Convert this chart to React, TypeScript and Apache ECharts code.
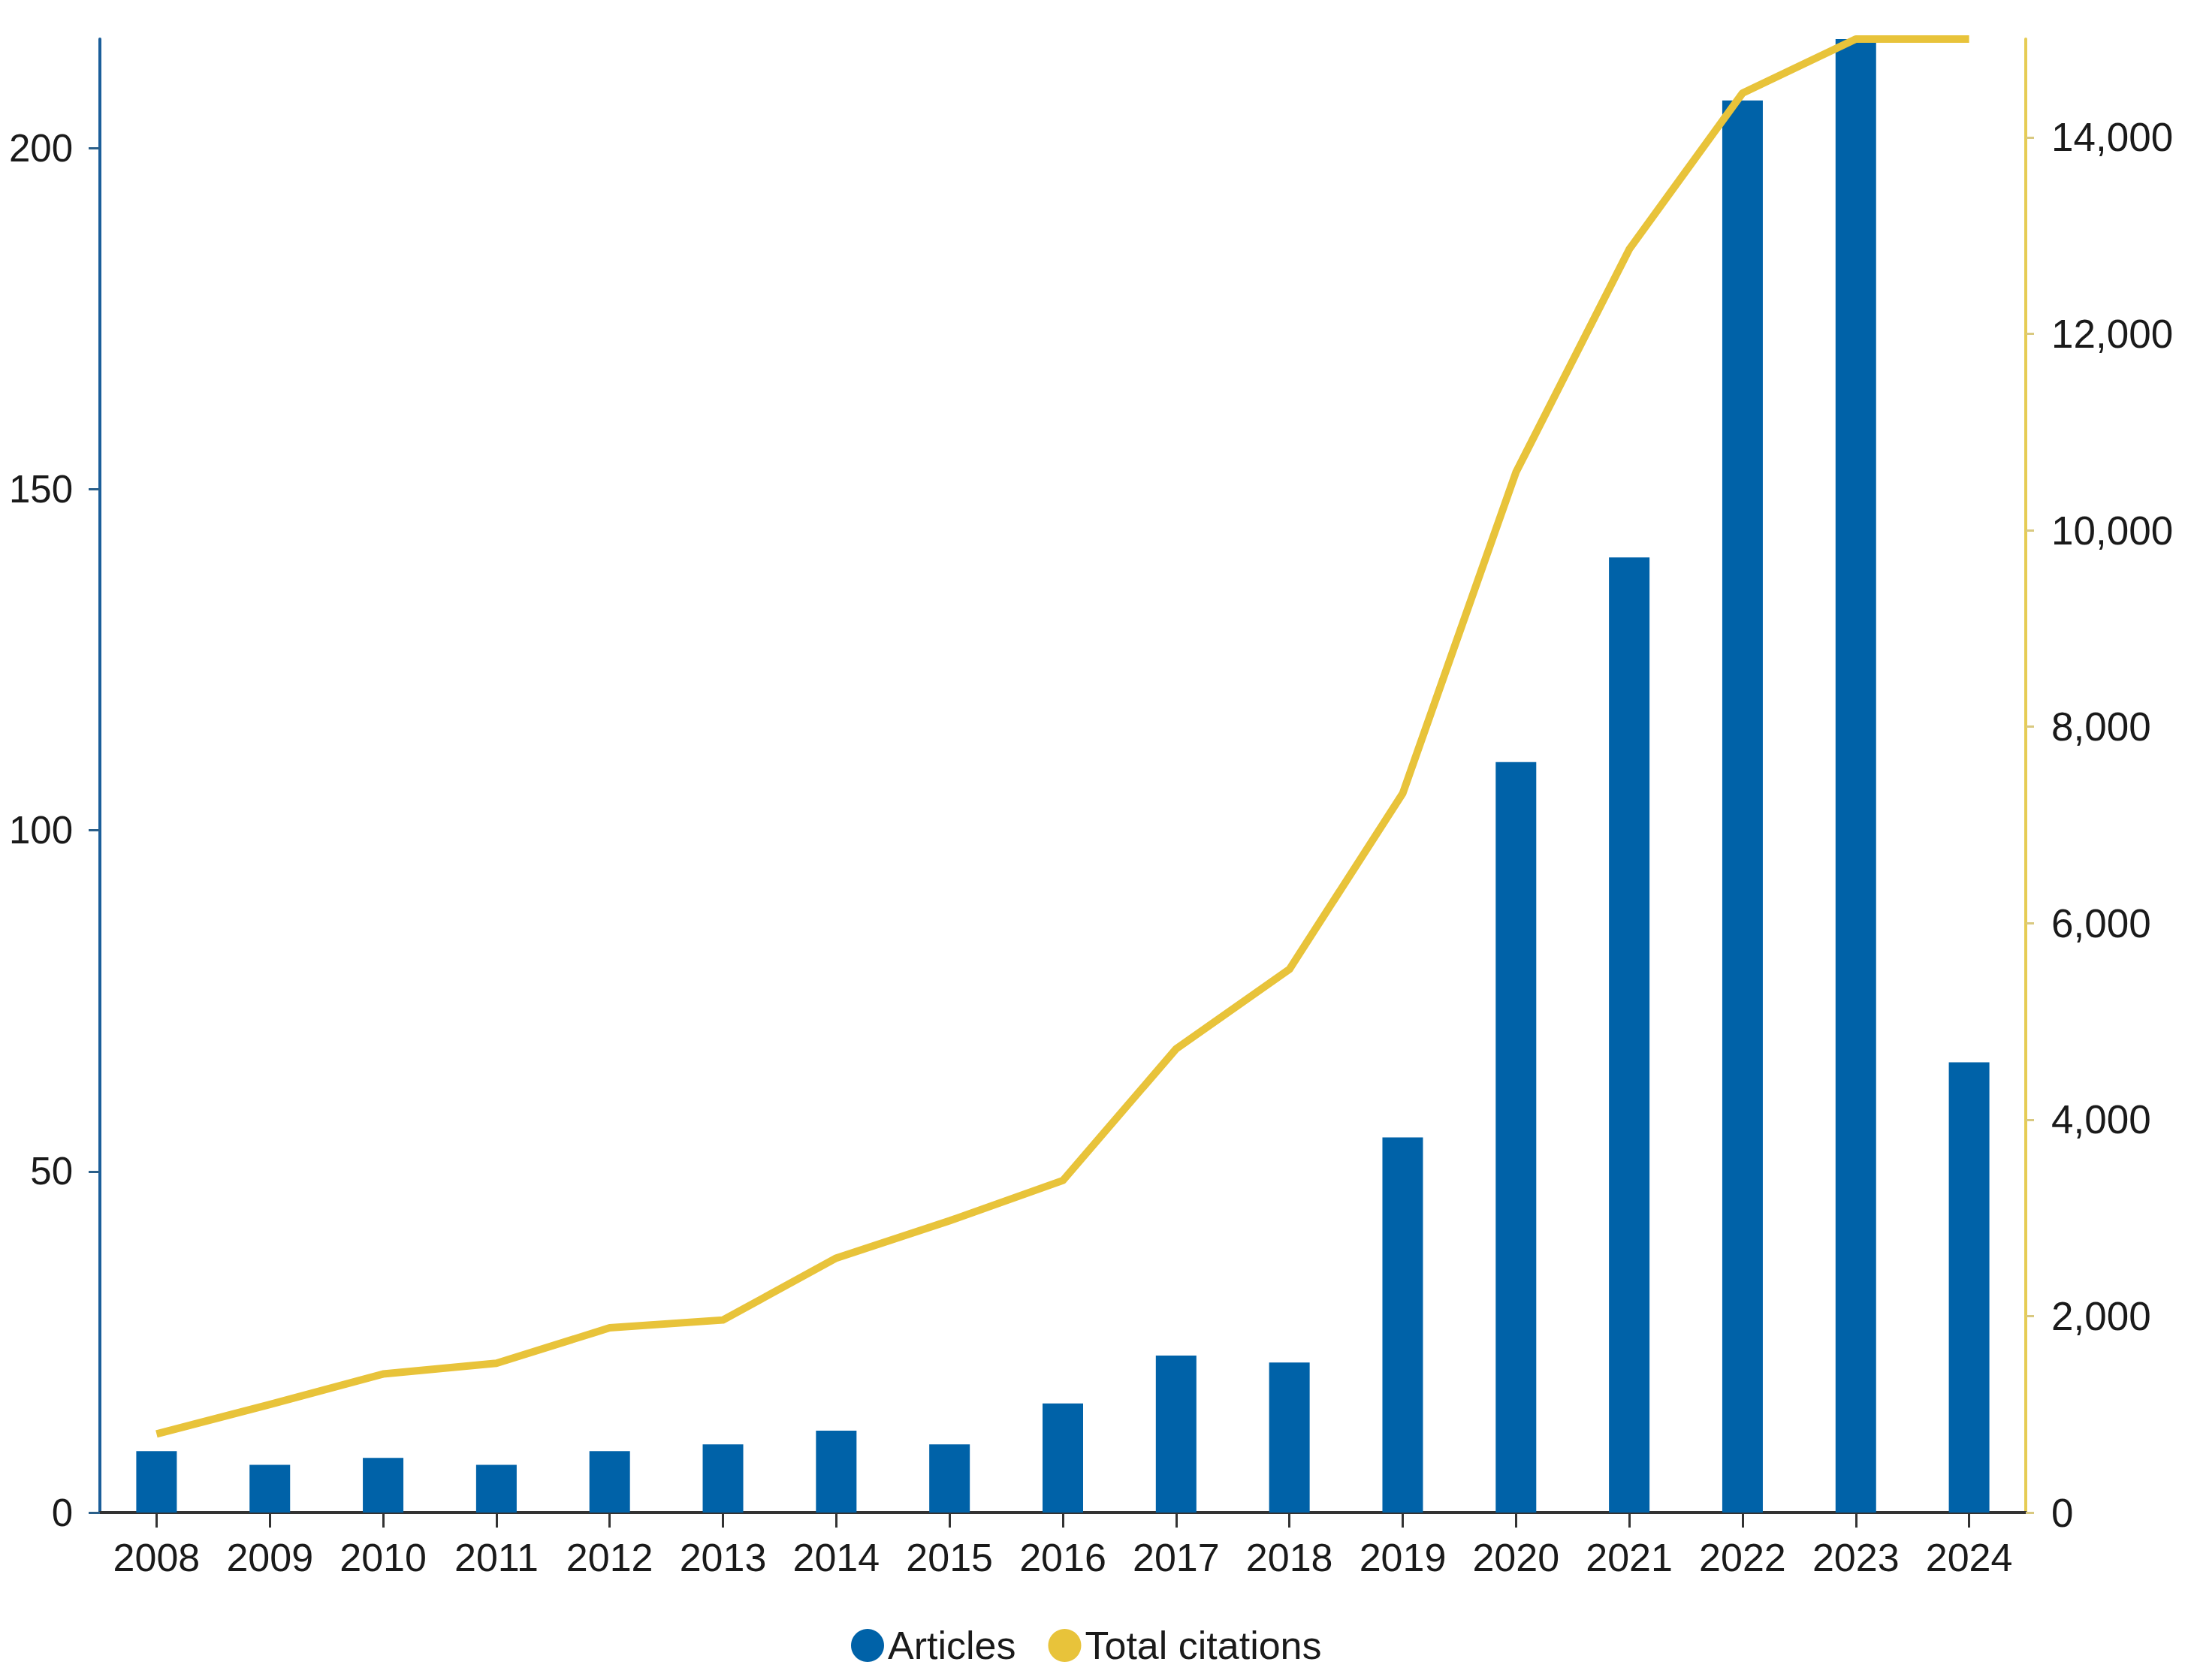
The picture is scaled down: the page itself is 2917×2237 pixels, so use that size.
import React, { useEffect, useRef } from "react";
import * as echarts from "echarts";

const years = ["2008","2009","2010","2011","2012","2013","2014","2015","2016","2017","2018","2019","2020","2021","2022","2023","2024"];
const articles = [9, 7, 8, 7, 9, 10, 12, 10, 16, 23, 22, 55, 110, 140, 207, 216, 66];
const citations = [800, 1100, 1410, 1520, 1880, 1960, 2590, 2970, 3380, 4720, 5530, 7320, 10590, 12860, 14450, 15000, 15000];
const leftTicks = [0, 50, 100, 150, 200];
const rightTicks = [0, 2000, 4000, 6000, 8000, 10000, 12000, 14000];

const FONT = "'Liberation Sans', Arial, Helvetica, sans-serif";
const BLUE = "#0062a8";
const YELLOW = "#e8c33a";

export default function App() {
  const ref = useRef<HTMLDivElement>(null);
  useEffect(() => {
    if (!ref.current) return;
    const chart = echarts.init(ref.current, undefined, { renderer: "svg" });
    chart.setOption({
      animation: false,
      backgroundColor: "#ffffff",
      textStyle: { fontFamily: FONT },
      grid: { left: 133, right: 220, top: 52, bottom: 223, containLabel: false },
      legend: {
        left: 1128,
        top: 2160,
        itemWidth: 44,
        itemHeight: 44,
        itemGap: 43,
        icon: "circle",
        textStyle: { fontFamily: FONT, fontSize: 52, color: "#1a1a1a", padding: [0, 0, 0, 0] },
        data: ["Articles", "Total citations"],
      },
      xAxis: {
        type: "category",
        data: years,
        boundaryGap: true,
        axisLine: { show: true, lineStyle: { color: "#333333", width: 4 } },
        axisTick: { show: true, alignWithLabel: true, length: 20, lineStyle: { color: "#333333", width: 3 } },
        axisLabel: { fontFamily: FONT, fontSize: 52, color: "#1a1a1a", margin: 34, interval: 0 },
        splitLine: { show: false },
      },
      yAxis: [
        {
          type: "value",
          min: 0,
          max: 216,
          interval: 50,
          position: "left",
          axisLine: { show: true, lineStyle: { color: "#1b5e9a", width: 4 } },
          axisTick: { show: true, length: 15, customValues: leftTicks, lineStyle: { color: "#2a5f8a", width: 3 } },
          axisLabel: { fontFamily: FONT, fontSize: 51, color: "#1a1a1a", margin: 36, customValues: leftTicks },
          splitLine: { show: false },
        },
        {
          type: "value",
          min: 0,
          max: 15000,
          interval: 2000,
          position: "right",
          axisLine: { show: true, lineStyle: { color: "#e6cc55", width: 4 } },
          axisTick: { show: true, length: 11, customValues: rightTicks, lineStyle: { color: "#d9c980", width: 3 } },
          axisLabel: {
            fontFamily: FONT,
            fontSize: 53,
            color: "#1a1a1a",
            margin: 34,
            customValues: rightTicks,
            formatter: (v: number) => v.toLocaleString("en-US"),
          },
          splitLine: { show: false },
        },
      ],
      series: [
        {
          name: "Articles",
          type: "bar",
          yAxisIndex: 0,
          data: articles,
          barWidth: 54,
          itemStyle: { color: BLUE },
          z: 2,
        },
        {
          name: "Total citations",
          type: "line",
          yAxisIndex: 1,
          data: citations,
          symbol: "none",
          showSymbol: false,
          clip: false,
          smooth: false,
          lineStyle: { color: YELLOW, width: 10, join: "round" },
          itemStyle: { color: YELLOW },
          z: 3,
        },
      ],
    });
    return () => chart.dispose();
  }, []);
  return (
    <div
      ref={ref}
      style={{ position: "absolute", left: 0, top: 0, width: 2917, height: 2237, background: "#fff" }}
    />
  );
}
